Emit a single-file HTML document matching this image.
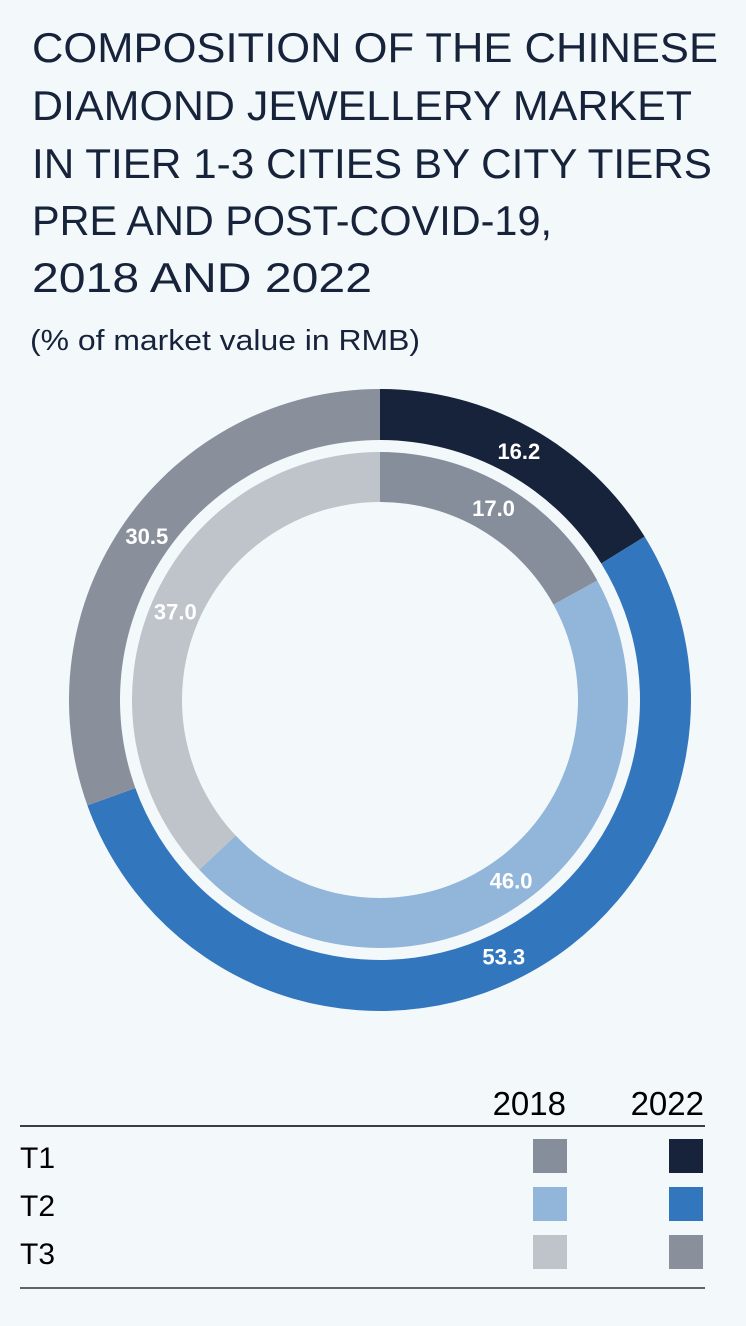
<!DOCTYPE html>
<html><head><meta charset="utf-8"><style>
html,body{margin:0;padding:0;background:#f3f8fb;}
svg{display:block;font-family:"Liberation Sans",sans-serif;}
</style></head><body>
<svg id="chart" width="746" height="1326" viewBox="0 0 746 1326">
<rect width="746" height="1326" fill="#f3f8fb"/>
<g fill="#17233b" font-size="42">
<text x="32" y="62" textLength="686" lengthAdjust="spacingAndGlyphs">COMPOSITION OF THE CHINESE</text>
<text x="32" y="120" textLength="660" lengthAdjust="spacingAndGlyphs">DIAMOND JEWELLERY MARKET</text>
<text x="32" y="178" textLength="680" lengthAdjust="spacingAndGlyphs">IN TIER 1-3 CITIES BY CITY TIERS</text>
<text x="32" y="235" textLength="520" lengthAdjust="spacingAndGlyphs">PRE AND POST-COVID-19,</text>
<text x="32" y="292" textLength="340" lengthAdjust="spacingAndGlyphs">2018 AND 2022</text>
</g>
<text x="30" y="350" font-size="29" fill="#17233b" textLength="390" lengthAdjust="spacingAndGlyphs">(% of market value in RMB)</text>
<g id="rings"></g>
<g>
<text x="566" y="1115" font-size="33" text-anchor="end" fill="#000">2018</text>
<text x="704" y="1115" font-size="33" text-anchor="end" fill="#000">2022</text>
<line x1="20" y1="1126" x2="705" y2="1126" stroke="#000" stroke-width="1.5"/>
<line x1="20" y1="1288" x2="705" y2="1288" stroke="#333" stroke-width="1.5"/>
<g id="legendRows"></g>
</g>
</svg>
<script>
const tiers = ["T1","T2","T3"];
const values2018 = [17.0, 46.0, 37.0];
const values2022 = [16.2, 53.3, 30.5];
const colors2018 = ["#858e9a","#92b5da","#bfc4cb"];
const colors2022 = ["#17233b","#3276bd","#8a909b"];
const NS="http://www.w3.org/2000/svg";
const cx=380, cy=700;
function pt(r,a){return [cx+r*Math.sin(a), cy-r*Math.cos(a)];}
function arc(r0,r1,a0,a1){
  const lg=(a1-a0)>Math.PI?1:0;
  const p0=pt(r1,a0),p1=pt(r1,a1),p2=pt(r0,a1),p3=pt(r0,a0);
  return `M${p0}A${r1},${r1} 0 ${lg} 1 ${p1}L${p2}A${r0},${r0} 0 ${lg} 0 ${p3}Z`;
}
const g=document.getElementById('rings');
function ring(vals,cols,r0,r1,rl,year){
  const tot=vals.reduce((a,b)=>a+b,0); let acc=0;
  vals.forEach((v,i)=>{
    const a0=acc/tot*2*Math.PI; acc+=v; const a1=acc/tot*2*Math.PI;
    const p=document.createElementNS(NS,'path');
    p.setAttribute('d',arc(r0,r1,a0,a1)); p.setAttribute('fill',cols[i]);
    
    
    g.appendChild(p);
    const m=pt(rl,(a0+a1)/2);
    const t=document.createElementNS(NS,'text');
    t.setAttribute('x',m[0]); t.setAttribute('y',m[1]+8);
    t.setAttribute('text-anchor','middle'); t.setAttribute('fill','#fff');
    t.setAttribute('font-size','22'); t.setAttribute('font-weight','bold');
    t.textContent=v.toFixed(1);
    
    
    g.appendChild(t);
  });
}
ring(values2022,colors2022,260,311,285,'2022');
ring(values2018,colors2018,198,248,223,'2018');
const lr=document.getElementById('legendRows');
tiers.forEach((tn,i)=>{
  const y=1139+i*48;
  const t=document.createElementNS(NS,'text');
  t.setAttribute('x',20); t.setAttribute('y',y+29); t.setAttribute('font-size','30'); t.setAttribute('fill','#000');
  t.textContent=tn;
  
  
  lr.appendChild(t);
  [[533,colors2018[i],'2018'],[669,colors2022[i],'2022']].forEach(s=>{
    const r=document.createElementNS(NS,'rect');
    r.setAttribute('x',s[0]); r.setAttribute('y',y); r.setAttribute('width',34); r.setAttribute('height',34); r.setAttribute('fill',s[1]);
    
    
    lr.appendChild(r);
  });
});
</script>
</body></html>
